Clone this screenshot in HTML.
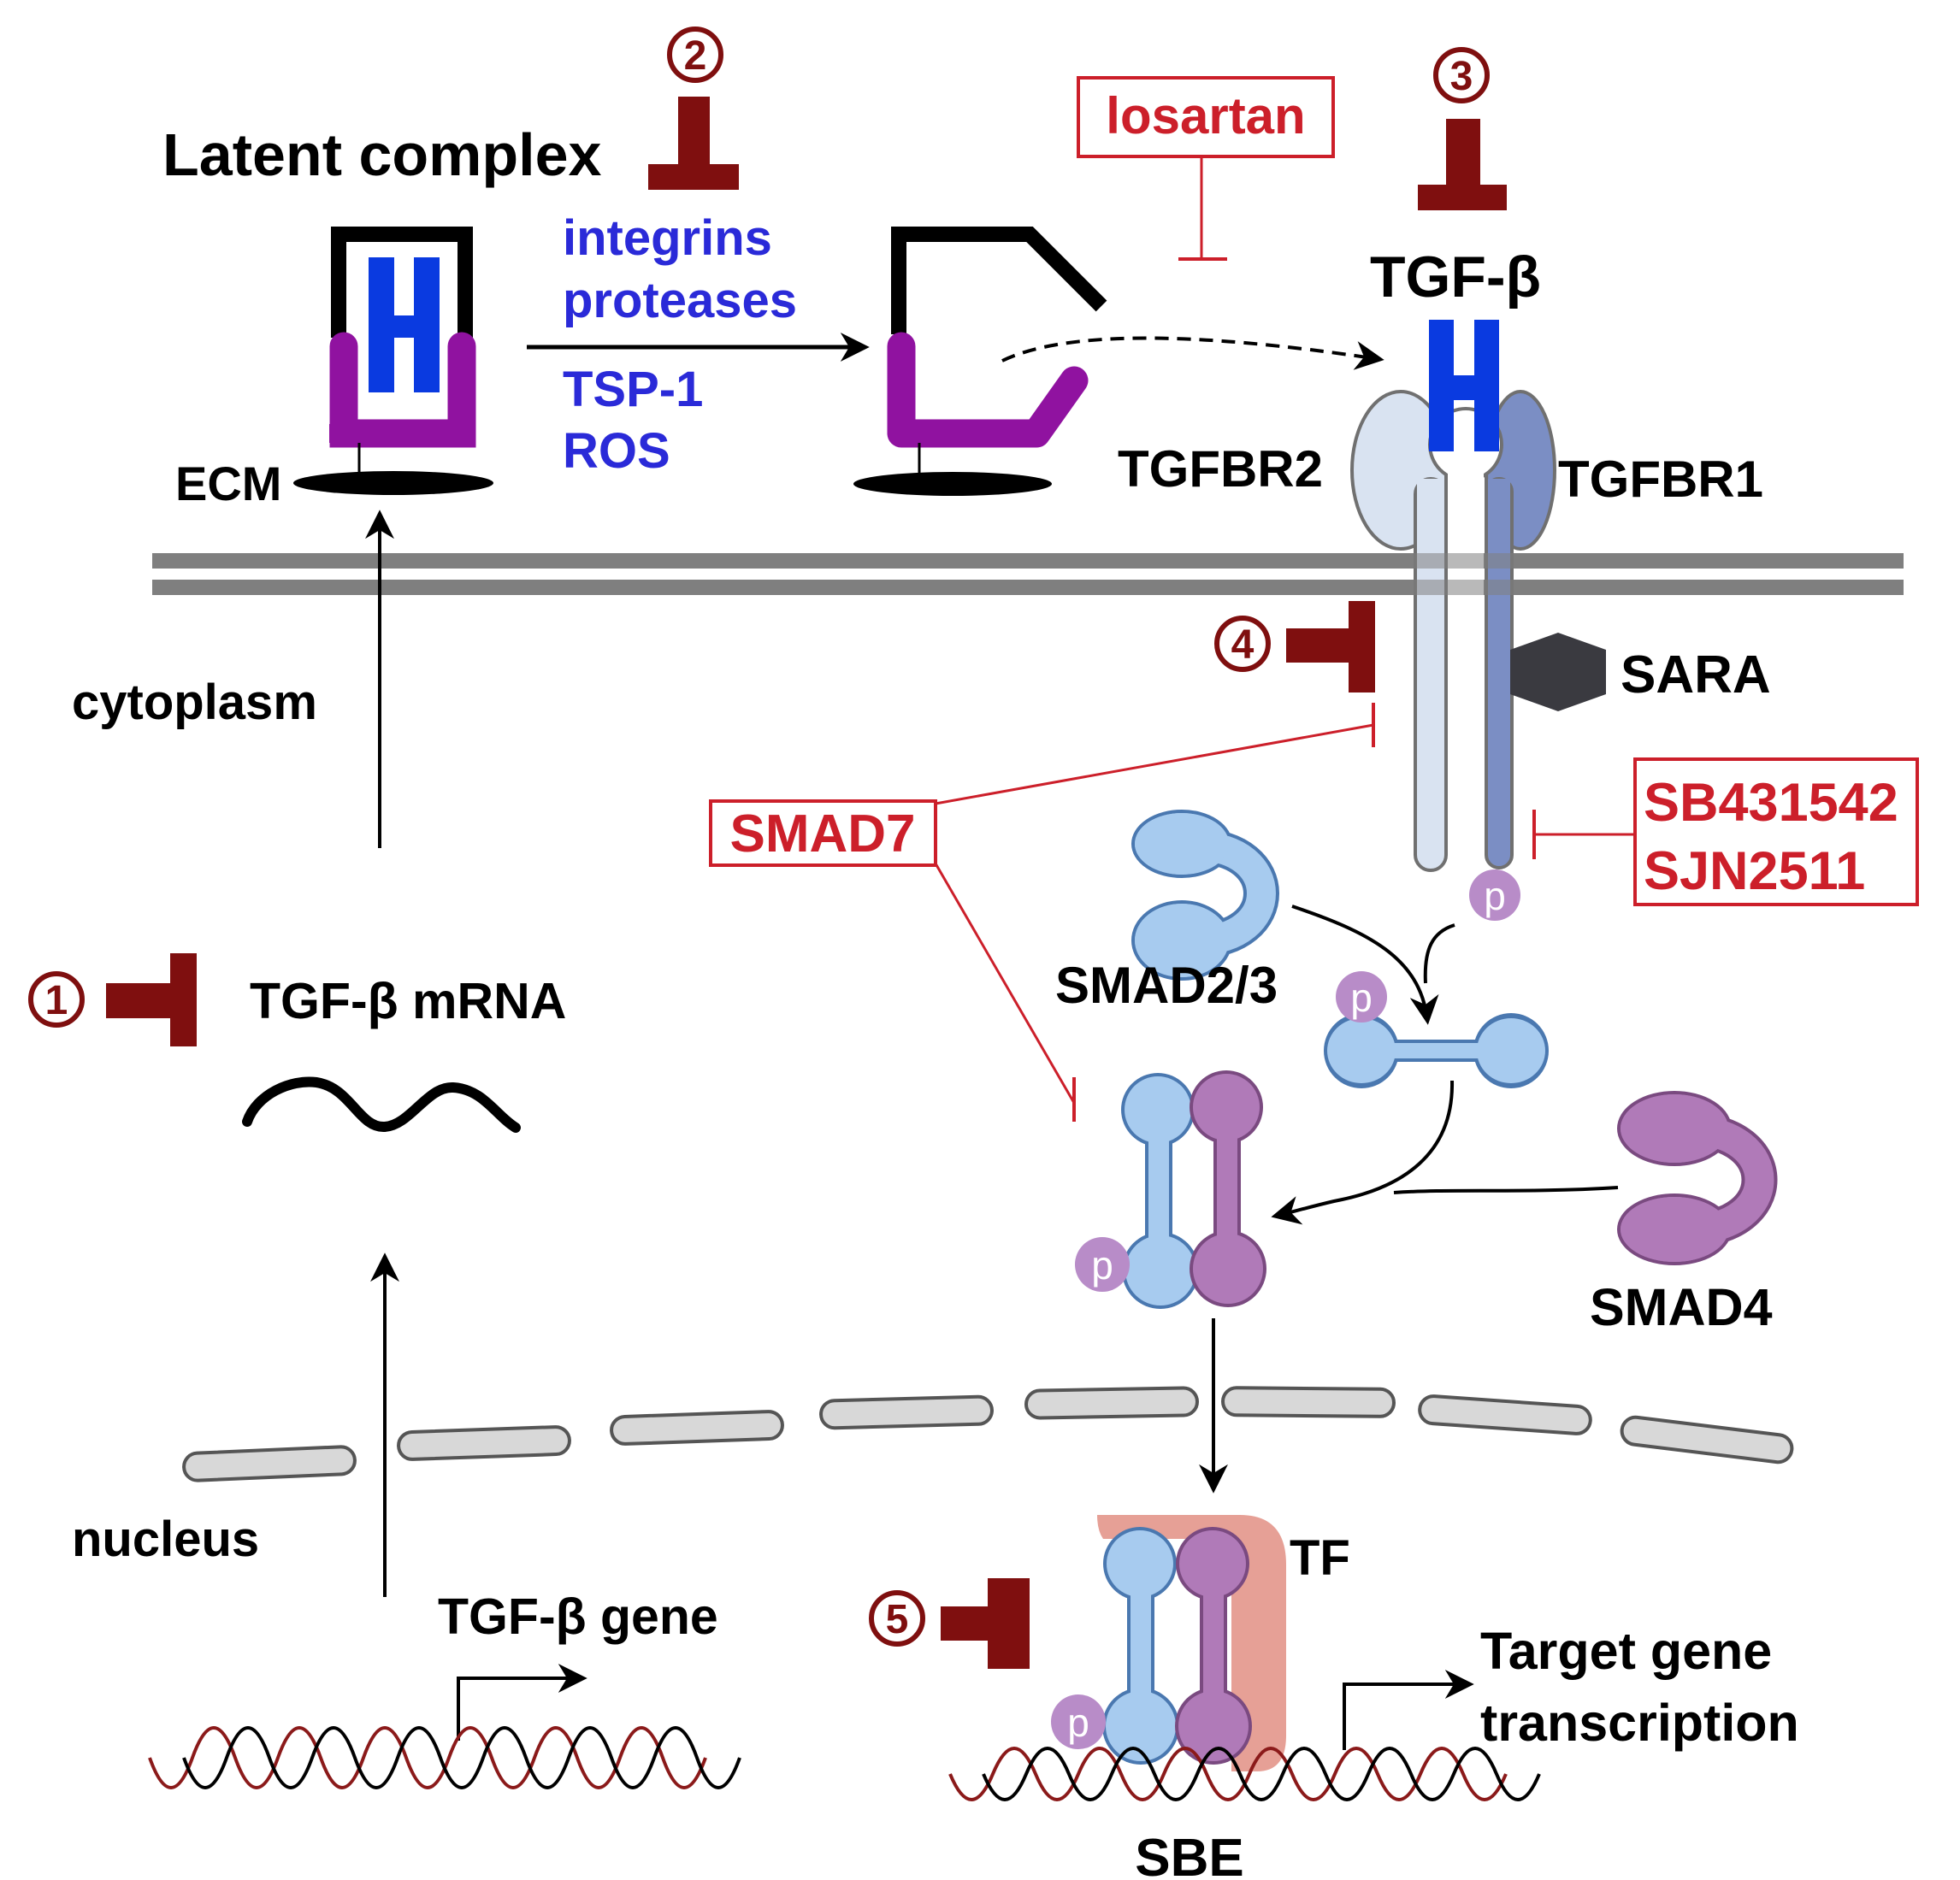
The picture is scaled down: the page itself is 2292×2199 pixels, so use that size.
<!DOCTYPE html>
<html><head><meta charset="utf-8"><style>
html,body{margin:0;padding:0;background:#fff;}
svg{display:block;}
text{font-family:"Liberation Sans",Arial,sans-serif;font-weight:bold;}
</style></head><body>
<svg width="2292" height="2199" viewBox="0 0 2292 2199" xmlns="http://www.w3.org/2000/svg">
<defs>
<marker id="ahb" viewBox="0 0 10 10" refX="8" refY="5" markerWidth="34" markerHeight="34" orient="auto" markerUnits="userSpaceOnUse"><path d="M0,0 L10,5 L0,10 L3,5 Z" fill="#000"/></marker>
</defs>

<!-- membrane -->
<rect x="178" y="647" width="2048" height="18" fill="#7f7f7f"/>
<rect x="178" y="678" width="2048" height="18" fill="#7f7f7f"/>

<!-- Latent complex -->
<text x="190" y="205" font-size="70">Latent complex</text>
<circle cx="813" cy="64" r="30" fill="none" stroke="#7f0f0f" stroke-width="6"/>
<text x="813" y="81" font-size="48" fill="#7f0f0f" text-anchor="middle">2</text>
<rect x="793" y="113" width="37" height="85" fill="#7f0f0f"/>
<rect x="758" y="192" width="106" height="30" fill="#7f0f0f"/>

<text x="658" y="298" font-size="58" fill="#2a2ad8">integrins</text>
<text x="658" y="371" font-size="58" fill="#2a2ad8">proteases</text>
<text x="658" y="475" font-size="58" fill="#2a2ad8">TSP-1</text>
<text x="658" y="547" font-size="58" fill="#2a2ad8">ROS</text>
<line x1="616" y1="406" x2="1010" y2="406" stroke="#000" stroke-width="5" marker-end="url(#ahb)"/>

<!-- left complex -->
<path d="M396,395 V274 H544 V395" fill="none" stroke="#000" stroke-width="18"/>
<rect x="431" y="301" width="30" height="158" fill="#0a3ae0"/>
<rect x="484" y="301" width="30" height="158" fill="#0a3ae0"/>
<rect x="455" y="369" width="35" height="26" fill="#0a3ae0"/>
<path d="M402,405 V507 H540 V405" fill="none" stroke="#9012a0" stroke-width="33" stroke-linecap="round"/>
<path d="M385,496 H556 V518 H385 Z" fill="#9012a0"/>
<line x1="420" y1="518" x2="420" y2="563" stroke="#000" stroke-width="3"/>
<ellipse cx="460" cy="565" rx="117" ry="14" fill="#000"/>
<text x="205" y="585" font-size="56">ECM</text>
<line x1="444" y1="992" x2="444" y2="603" stroke="#000" stroke-width="4" marker-end="url(#ahb)"/>
<text x="84" y="841" font-size="58">cytoplasm</text>

<!-- right open complex -->
<path d="M1051,391 V274 H1204 L1288,358" fill="none" stroke="#000" stroke-width="18"/>
<path d="M1054,405 V507 H1212 L1256,445" fill="none" stroke="#9012a0" stroke-width="33" stroke-linecap="round" stroke-linejoin="round"/>
<line x1="1075" y1="518" x2="1075" y2="563" stroke="#000" stroke-width="3"/>
<ellipse cx="1114" cy="566" rx="116" ry="14" fill="#000"/>
<path d="M1172,422 Q1280,370 1612,420" fill="none" stroke="#000" stroke-width="4" stroke-dasharray="16,10" marker-end="url(#ahb)"/>

<!-- losartan -->
<rect x="1261" y="91" width="298" height="92" fill="#fff" stroke="#cc1f2a" stroke-width="4"/>
<text x="1410" y="156" font-size="60" fill="#cc1f2a" text-anchor="middle">losartan</text>
<line x1="1405" y1="183" x2="1405" y2="303" stroke="#cc1f2a" stroke-width="3"/>
<line x1="1378" y1="303" x2="1435" y2="303" stroke="#cc1f2a" stroke-width="4"/>

<!-- 3 -->
<circle cx="1709" cy="88" r="30" fill="none" stroke="#7f0f0f" stroke-width="6"/>
<text x="1709" y="105" font-size="48" fill="#7f0f0f" text-anchor="middle">3</text>
<rect x="1691" y="139" width="40" height="80" fill="#7f0f0f"/>
<rect x="1658" y="216" width="104" height="30" fill="#7f0f0f"/>
<text x="1702" y="347" font-size="68" text-anchor="middle">TGF-β</text>

<!-- receptors -->
<ellipse cx="1638" cy="550" rx="57" ry="92" fill="#d9e3f1" stroke="#707070" stroke-width="4"/>
<ellipse cx="1778" cy="550" rx="40" ry="92" fill="#7b8ec4" stroke="#707070" stroke-width="4"/>
<rect x="1655" y="560" width="36" height="458" rx="18" fill="#d9e3f1" stroke="#707070" stroke-width="4"/>
<rect x="1738" y="560" width="30" height="455" rx="15" fill="#7b8ec4" stroke="#707070" stroke-width="4"/>
<rect x="1657" y="560" width="32" height="50" fill="#d9e3f1"/>
<rect x="1740" y="560" width="26" height="50" fill="#7b8ec4"/>
<circle cx="1714" cy="520" r="42" fill="#fff" stroke="#707070" stroke-width="4"/>
<rect x="1693" y="540" width="42" height="480" fill="#fff"/>
<line x1="1691" y1="556" x2="1691" y2="1000" stroke="#707070" stroke-width="4"/>
<line x1="1738" y1="556" x2="1738" y2="1000" stroke="#707070" stroke-width="4"/>
<rect x="1671" y="374" width="29" height="154" fill="#0a3ae0"/>
<rect x="1724" y="374" width="29" height="154" fill="#0a3ae0"/>
<rect x="1698" y="439" width="28" height="29" fill="#0a3ae0"/>
<rect x="1640" y="647" width="140" height="18" fill="#7f7f7f" opacity="0.55"/>
<rect x="1640" y="678" width="140" height="18" fill="#7f7f7f" opacity="0.55"/>
<text x="1307" y="569" font-size="60">TGFBR2</text>
<text x="1822" y="581" font-size="60">TGFBR1</text>

<!-- 4 -->
<circle cx="1453" cy="753" r="30" fill="none" stroke="#7f0f0f" stroke-width="6"/>
<text x="1453" y="770" font-size="48" fill="#7f0f0f" text-anchor="middle">4</text>
<rect x="1504" y="735" width="80" height="40" fill="#7f0f0f"/>
<rect x="1577" y="703" width="31" height="107" fill="#7f0f0f"/>

<!-- SARA -->
<polygon points="1766,760 1822,740 1878,760 1878,812 1822,832 1766,812" fill="#3a3a40"/>
<text x="1895" y="810" font-size="62">SARA</text>

<!-- SMAD7 -->
<rect x="831" y="937" width="263" height="75" fill="#fff" stroke="#cc1f2a" stroke-width="4"/>
<text x="962" y="996" font-size="62" fill="#cc1f2a" text-anchor="middle">SMAD7</text>
<line x1="1094" y1="940" x2="1606" y2="848" stroke="#cc1f2a" stroke-width="3"/>
<line x1="1606" y1="822" x2="1606" y2="874" stroke="#cc1f2a" stroke-width="4"/>
<line x1="1094" y1="1010" x2="1256" y2="1290" stroke="#cc1f2a" stroke-width="3"/>
<line x1="1256" y1="1260" x2="1256" y2="1312" stroke="#cc1f2a" stroke-width="4"/>

<!-- SB -->
<rect x="1912" y="888" width="330" height="170" fill="#fff" stroke="#cc1f2a" stroke-width="4"/>
<text x="1922" y="960" font-size="63" fill="#cc1f2a">SB431542</text>
<text x="1922" y="1040" font-size="63" fill="#cc1f2a">SJN2511</text>
<line x1="1912" y1="976" x2="1794" y2="976" stroke="#cc1f2a" stroke-width="3"/>
<line x1="1794" y1="947" x2="1794" y2="1005" stroke="#cc1f2a" stroke-width="4"/>

<!-- p on receptor -->
<circle cx="1748" cy="1047" r="30" fill="#b88cc8"/>
<text x="1748" y="1064" font-size="46" fill="#fff" text-anchor="middle" style="font-weight:normal">p</text>

<!-- SMAD2/3 monomer -->
<path d="M1400,990 C1500,990 1500,1100 1400,1100" stroke="#4a78b0" stroke-width="42" fill="none"/>
<g fill="#a7cbef" stroke="#4a78b0" stroke-width="4"><ellipse cx="1382" cy="987" rx="57" ry="38"/><ellipse cx="1382" cy="1100" rx="57" ry="45"/></g>
<path d="M1400,990 C1500,990 1500,1100 1400,1100" stroke="#a7cbef" stroke-width="34" fill="none"/>
<ellipse cx="1382" cy="987" rx="55" ry="36" fill="#a7cbef"/>
<ellipse cx="1382" cy="1100" rx="55" ry="43" fill="#a7cbef"/>
<text x="1234" y="1173" font-size="60">SMAD2/3</text>

<path d="M1511,1060 C1600,1090 1660,1120 1669,1192" fill="none" stroke="#000" stroke-width="4" marker-end="url(#ahb)"/>
<path d="M1701,1082 C1675,1090 1665,1110 1667,1150" fill="none" stroke="#000" stroke-width="4"/>

<!-- horizontal p dumbbell -->
<g fill="#4a78b0"><circle cx="1592" cy="1229" r="44"/><circle cx="1767" cy="1229" r="44"/><rect x="1590" y="1216" width="180" height="26"/></g>
<g fill="#a7cbef"><ellipse cx="1592" cy="1229" rx="40" ry="38"/><ellipse cx="1767" cy="1229" rx="40" ry="38"/><rect x="1590" y="1220" width="180" height="18"/></g>
<circle cx="1592" cy="1166" r="30" fill="#b88cc8"/>
<text x="1592" y="1183" font-size="46" fill="#fff" text-anchor="middle" style="font-weight:normal">p</text>

<path d="M1698,1264 C1700,1350 1640,1390 1560,1405 C1530,1412 1510,1418 1493,1422" fill="none" stroke="#000" stroke-width="4" marker-end="url(#ahb)"/>
<path d="M1892,1389 C1780,1396 1700,1390 1630,1395" fill="none" stroke="#000" stroke-width="4"/>

<!-- SMAD4 -->
<path d="M1975,1322 C2085,1322 2085,1438 1975,1438" stroke="#7a4a80" stroke-width="42" fill="none"/>
<ellipse cx="1958" cy="1320" rx="65" ry="42" fill="#b07ab8" stroke="#7a4a80" stroke-width="4"/>
<ellipse cx="1958" cy="1438" rx="65" ry="40" fill="#b07ab8" stroke="#7a4a80" stroke-width="4"/>
<path d="M1975,1322 C2085,1322 2085,1438 1975,1438" stroke="#b07ab8" stroke-width="34" fill="none"/>
<ellipse cx="1958" cy="1320" rx="63" ry="40" fill="#b07ab8"/>
<ellipse cx="1958" cy="1438" rx="63" ry="38" fill="#b07ab8"/>
<text x="1859" y="1550" font-size="61">SMAD4</text>

<!-- complex 1 -->
<g fill="#4a78b0"><circle cx="1354" cy="1298" r="43"/><circle cx="1357" cy="1486" r="45"/><rect x="1339" y="1298" width="32" height="190"/></g>
<g fill="#a7cbef"><circle cx="1354" cy="1298" r="39"/><circle cx="1357" cy="1486" r="41"/><rect x="1343" y="1298" width="24" height="190"/></g>
<g fill="#7a4a80"><circle cx="1434" cy="1295" r="43"/><circle cx="1436" cy="1484" r="45"/><rect x="1419" y="1295" width="32" height="190"/></g>
<g fill="#b07ab8"><circle cx="1434" cy="1295" r="39"/><circle cx="1436" cy="1484" r="41"/><rect x="1423" y="1295" width="24" height="190"/></g>
<circle cx="1289" cy="1479" r="32" fill="#b88cc8"/>
<text x="1289" y="1496" font-size="46" fill="#fff" text-anchor="middle" style="font-weight:normal">p</text>

<line x1="1419" y1="1542" x2="1419" y2="1740" stroke="#000" stroke-width="4" marker-end="url(#ahb)"/>

<!-- nuclear envelope -->
<g fill="#d8d8d8" stroke="#555" stroke-width="4">
<rect x="-100" y="-16" width="200" height="32" rx="16" transform="translate(315,1712) rotate(-2.5)"/>
<rect x="-100" y="-16" width="200" height="32" rx="16" transform="translate(566,1688) rotate(-2)"/>
<rect x="-100" y="-16" width="200" height="32" rx="16" transform="translate(815,1670) rotate(-2)"/>
<rect x="-100" y="-16" width="200" height="32" rx="16" transform="translate(1060,1652) rotate(-1.5)"/>
<rect x="-100" y="-16" width="200" height="32" rx="16" transform="translate(1300,1641) rotate(-1)"/>
<rect x="-100" y="-16" width="200" height="32" rx="16" transform="translate(1530,1640) rotate(0.5)"/>
<rect x="-100" y="-16" width="200" height="32" rx="16" transform="translate(1760,1655) rotate(4)"/>
<rect x="-100" y="-16" width="200" height="32" rx="16" transform="translate(1996,1684) rotate(7)"/>
</g>
<line x1="1419" y1="1600" x2="1419" y2="1700" stroke="#000" stroke-width="4"/>
<text x="84" y="1820" font-size="58">nucleus</text>

<!-- 1 mRNA -->
<circle cx="66" cy="1169" r="30" fill="none" stroke="#7f0f0f" stroke-width="6"/>
<text x="66" y="1186" font-size="48" fill="#7f0f0f" text-anchor="middle">1</text>
<rect x="124" y="1150" width="76" height="41" fill="#7f0f0f"/>
<rect x="199" y="1115" width="31" height="109" fill="#7f0f0f"/>
<text x="292" y="1191" font-size="59">TGF-β mRNA</text>
<path d="M289,1312 C300,1280 340,1262 370,1266 C410,1272 420,1320 450,1318 C480,1316 500,1270 530,1272 C565,1274 580,1305 603,1319" fill="none" stroke="#000" stroke-width="12" stroke-linecap="round"/>
<line x1="450" y1="1868" x2="450" y2="1472" stroke="#000" stroke-width="4" marker-end="url(#ahb)"/>

<!-- TGF-b gene -->
<text x="512" y="1911" font-size="59">TGF-β gene</text>
<path d="M536,2036 V1963 H680" fill="none" stroke="#000" stroke-width="4" marker-end="url(#ahb)"/>
<path d="M175,2056 q25,70 50,0 t50,0 t50,0 t50,0 t50,0 t50,0 t50,0 t50,0 t50,0 t50,0 t50,0 t50,0 t50,0" fill="none" stroke="#8b1a1a" stroke-width="4"/>
<path d="M215,2056 q25,70 50,0 t50,0 t50,0 t50,0 t50,0 t50,0 t50,0 t50,0 t50,0 t50,0 t50,0 t50,0 t50,0" fill="none" stroke="#000" stroke-width="4"/>

<!-- 5 -->
<circle cx="1049" cy="1893" r="30" fill="none" stroke="#7f0f0f" stroke-width="6"/>
<text x="1049" y="1910" font-size="48" fill="#7f0f0f" text-anchor="middle">5</text>
<rect x="1100" y="1879" width="60" height="40" fill="#7f0f0f"/>
<rect x="1155" y="1846" width="49" height="106" fill="#7f0f0f"/>

<!-- TF -->
<path d="M1283,1772 H1450 Q1504,1772 1504,1830 V2030 Q1504,2072 1470,2072 H1440 V1800 H1290 Q1283,1790 1283,1772 Z" fill="#e6a096"/>
<text x="1508" y="1842" font-size="58">TF</text>

<!-- complex 2 -->
<g fill="#4a78b0"><circle cx="1333" cy="1829" r="43"/><circle cx="1334" cy="2019" r="45"/><rect x="1318" y="1829" width="32" height="190"/></g>
<g fill="#a7cbef"><circle cx="1333" cy="1829" r="39"/><circle cx="1334" cy="2019" r="41"/><rect x="1322" y="1829" width="24" height="190"/></g>
<g fill="#7a4a80"><circle cx="1418" cy="1829" r="43"/><circle cx="1419" cy="2019" r="45"/><rect x="1403" y="1829" width="32" height="190"/></g>
<g fill="#b07ab8"><circle cx="1418" cy="1829" r="39"/><circle cx="1419" cy="2019" r="41"/><rect x="1407" y="1829" width="24" height="190"/></g>
<circle cx="1261" cy="2014" r="32" fill="#b88cc8"/>
<text x="1261" y="2031" font-size="46" fill="#fff" text-anchor="middle" style="font-weight:normal">p</text>

<!-- target -->
<path d="M1572,2047 V1970 H1717" fill="none" stroke="#000" stroke-width="4" marker-end="url(#ahb)"/>
<text x="1731" y="1952" font-size="61">Target gene</text>
<text x="1731" y="2036" font-size="61">transcription</text>
<path d="M1111,2075 q25,60 50,0 t50,0 t50,0 t50,0 t50,0 t50,0 t50,0 t50,0 t50,0 t50,0 t50,0 t50,0 t50,0" fill="none" stroke="#8b1a1a" stroke-width="4"/>
<path d="M1150,2075 q25,60 50,0 t50,0 t50,0 t50,0 t50,0 t50,0 t50,0 t50,0 t50,0 t50,0 t50,0 t50,0 t50,0" fill="none" stroke="#000" stroke-width="4"/>
<text x="1391" y="2194" font-size="62" text-anchor="middle">SBE</text>
</svg>
</body></html>
